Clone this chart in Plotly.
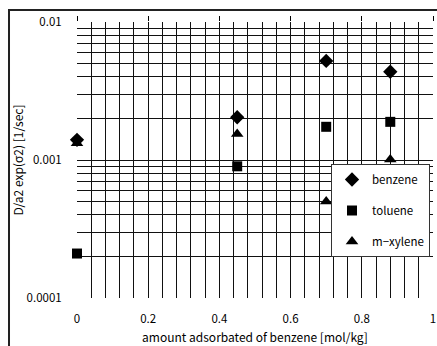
import plotly.graph_objects as go

# ---- data ----
x_vals = [0.0, 0.45, 0.70, 0.88]
benzene = [0.00140, 0.00204, 0.00522, 0.00436]
toluene = [0.00021, 0.00090, 0.00174, 0.00189]
mxylene = [0.00132, 0.00154, 0.00050, 0.00101]

x_ticks = [0, 0.2, 0.4, 0.6, 0.8, 1]
x_tick_labels = ["0", "0.2", "0.4", "0.6", "0.8", "1"]
y_decades = [0.0001, 0.001, 0.01]
y_tick_labels = ["0.0001", "0.001", "0.01"]

FONT = "Noto Sans CJK JP, sans-serif"

# grid positions
x_grid = [round(i * 0.04, 2) for i in range(26)]
x_grid_text = [x_tick_labels[x_ticks.index(v)] if v in x_ticks else "" for v in x_grid]
y_grid = []
y_grid_text = []
for d, lab in zip(y_decades[:-1], y_tick_labels[:-1]):
    for k in range(1, 10):
        y_grid.append(d * k)
        y_grid_text.append(lab if k == 1 else "")
y_grid.append(y_decades[-1])
y_grid_text.append(y_tick_labels[-1])

fig = go.Figure()
series = [("benzene", benzene, "diamond", 11),
          ("toluene", toluene, "square", 10),
          ("m−xylene", mxylene, "triangle-up", 11)]
for name, vals, sym, sz in series:
    fig.add_trace(go.Scatter(
        x=x_vals, y=vals, mode="markers", name=name, legendgroup=name,
        cliponaxis=False,
        marker=dict(symbol=sym, size=sz, color="black", line=dict(width=0)),
    ))

# invisible trace on top axis for major tick marks
fig.add_trace(go.Scatter(x=[0, 1], y=[0.001, 0.001], xaxis="x2", mode="markers",
                         marker=dict(opacity=0), showlegend=False, hoverinfo="skip"))

fig.update_layout(
    width=437, height=346,
    margin=dict(l=77, r=4, t=22, b=48),
    paper_bgcolor="white", plot_bgcolor="white",
    font=dict(family=FONT, size=11, color="black"),
    showlegend=True,
    legend=dict(x=0.7135, y=0.4855, xanchor="left", yanchor="top",
                bgcolor="white", bordercolor="#333", borderwidth=1,
                font=dict(size=11.5, family=FONT), tracegroupgap=12),
    xaxis=dict(range=[0, 1], tickmode="array", tickvals=x_grid, ticktext=x_grid_text,
               showgrid=True, gridcolor="#111", gridwidth=1, zeroline=False,
               ticks="outside", ticklen=10, tickcolor="rgba(0,0,0,0)",
               showline=False, automargin=False,
               title=dict(text="amount adsorbated of benzene [mol/kg]",
                          font=dict(size=12), standoff=8),
               tickfont=dict(size=11.5)),
    xaxis2=dict(range=[0, 1], overlaying="x", side="top", tickmode="array",
                tickvals=x_ticks, showticklabels=False, ticks="outside", ticklen=5,
                tickcolor="black", showgrid=False, zeroline=False, showline=False,
                automargin=False),
    yaxis=dict(type="log", range=[-4, -2], tickmode="array", tickvals=y_grid,
               ticktext=y_grid_text, showgrid=True, gridcolor="#111", gridwidth=1,
               zeroline=False, ticks="outside", ticklen=12, tickcolor="rgba(0,0,0,0)",
               showline=False, automargin=False,
               title=dict(text="D/a2 exp(σ2) [1/sec]", font=dict(size=12), standoff=0),
               tickfont=dict(size=11.5)),
    shapes=[dict(type="rect", xref="paper", yref="paper",
                 x0=-0.191, x1=1.2, y0=-0.4, y1=1.0435,
                 line=dict(color="#222", width=2), fillcolor="rgba(0,0,0,0)",
                 layer="above")],
)

fig.write_html("out.html", config={"displayModeBar": False},
               post_script="document.body.style.margin='0';document.body.style.padding='0';")
